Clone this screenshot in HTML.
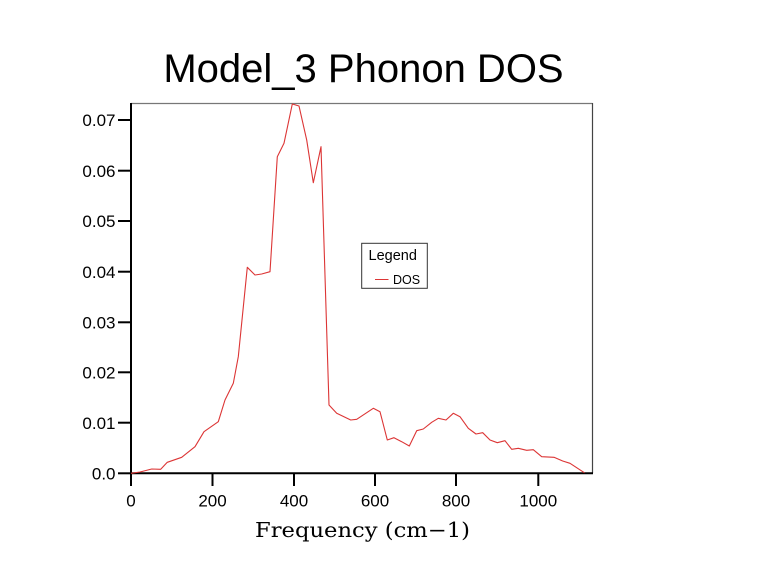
<!DOCTYPE html>
<html><head><meta charset="utf-8"><style>
html,body{margin:0;padding:0;background:#fff;}
svg{display:block;}
</style></head><body>
<svg width="757" height="577" viewBox="0 0 757 577" xmlns="http://www.w3.org/2000/svg">
<rect width="757" height="577" fill="#fff"/>
<text x="363.5" y="82" font-family="Liberation Sans, Arial, sans-serif" font-size="40" text-anchor="middle" fill="#000">Model_3 Phonon DOS</text>
<!-- frame -->
<line x1="131" y1="103.5" x2="592.5" y2="103.5" stroke="#777" stroke-width="1.2"/>
<line x1="592.5" y1="103" x2="592.5" y2="473" stroke="#444" stroke-width="1.2"/>
<!-- axes -->
<line x1="131" y1="103" x2="131" y2="474.5" stroke="#000" stroke-width="2"/>
<line x1="130" y1="473.3" x2="593" y2="473.3" stroke="#000" stroke-width="2"/>
<g stroke="#000" stroke-width="2">
<line x1="118" y1="473.3" x2="131" y2="473.3"/>
<line x1="118" y1="422.7" x2="131" y2="422.7"/>
<line x1="118" y1="372.3" x2="131" y2="372.3"/>
<line x1="118" y1="322.3" x2="131" y2="322.3"/>
<line x1="118" y1="271.7" x2="131" y2="271.7"/>
<line x1="118" y1="221" x2="131" y2="221"/>
<line x1="118" y1="170.7" x2="131" y2="170.7"/>
<line x1="118" y1="120" x2="131" y2="120"/>
<line x1="131" y1="473" x2="131" y2="486"/>
<line x1="212.5" y1="473" x2="212.5" y2="486"/>
<line x1="294" y1="473" x2="294" y2="486"/>
<line x1="375" y1="473" x2="375" y2="486"/>
<line x1="456" y1="473" x2="456" y2="486"/>
<line x1="538.3" y1="473" x2="538.3" y2="486"/>
</g>
<g font-family="Liberation Sans, Arial, sans-serif" font-size="17" fill="#000" text-anchor="end">
<text x="115.5" y="479.5">0.0</text>
<text x="115.5" y="428.9">0.01</text>
<text x="115.5" y="378.5">0.02</text>
<text x="115.5" y="328.5">0.03</text>
<text x="115.5" y="277.9">0.04</text>
<text x="115.5" y="227.2">0.05</text>
<text x="115.5" y="176.9">0.06</text>
<text x="115.5" y="126.2">0.07</text>
</g>
<g font-family="Liberation Sans, Arial, sans-serif" font-size="17" fill="#000" text-anchor="middle">
<text x="131" y="506.5">0</text>
<text x="212.5" y="506.5">200</text>
<text x="294" y="506.5">400</text>
<text x="375" y="506.5">600</text>
<text x="456" y="506.5">800</text>
<text x="538.3" y="506.5">1000</text>
</g>
<text x="255" y="537" font-family="DejaVu Serif, Liberation Serif, serif" font-size="20.5" textLength="215" lengthAdjust="spacingAndGlyphs" fill="#000">Frequency (cm−1)</text>
<!-- curve -->
<polyline fill="none" stroke="#dc3535" stroke-width="1.1" stroke-linejoin="round" points="
131,473.3 140,472 151.7,469 160.7,469.3 167.3,462.3 181.7,457.3 195,446.7 204,431.7 218.3,421.7 225,400 233.3,383.3 238.3,356.7 247.3,267.3 255,275 261.7,274 270,271.7 277.3,156.7 284,143.3 292.3,104 299,106 306.7,140 313.3,182.7 321,146.7 329,405 336.7,413.3 350.7,420 356.7,419.3 373.3,408.3 380,411.7 387.3,440 394,437.7 401.7,441.7 409.3,446 416.7,430.7 423.3,429 431.7,422.3 438.3,418.3 446,420 453.3,413.3 460,416.7 468.3,428.3 476,434 482.7,432.7 490,440 497.3,442.7 505,440.7 511.7,449.3 518.3,448.3 526.7,450.3 533.3,449.7 541.7,456.7 554,457.3 562.7,461 570,463.3 584.5,472.8"/>
<!-- legend -->
<rect x="361.7" y="243.3" width="65.6" height="45" fill="#fff" stroke="#333" stroke-width="1"/>
<text x="368.5" y="260" font-family="Liberation Sans, Arial, sans-serif" font-size="14.5" fill="#000">Legend</text>
<line x1="375" y1="279.5" x2="388.5" y2="279.5" stroke="#dc3535" stroke-width="1"/>
<text x="393" y="284" font-family="Liberation Sans, Arial, sans-serif" font-size="12.5" fill="#000">DOS</text>
</svg>
</body></html>
